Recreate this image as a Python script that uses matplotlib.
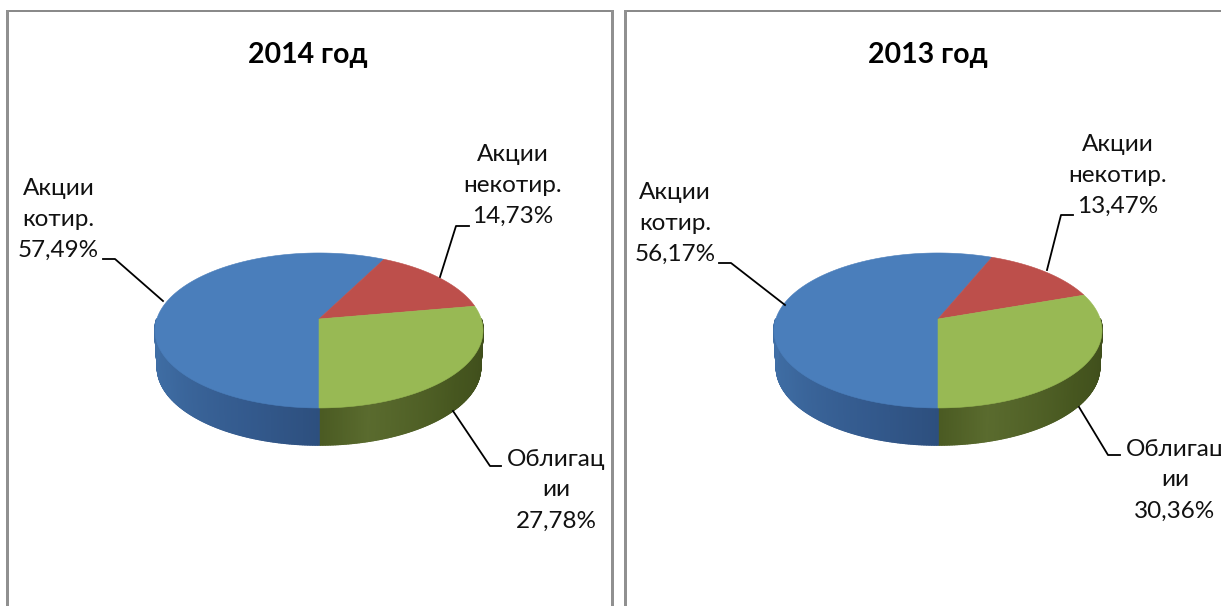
import numpy as np
import matplotlib
matplotlib.use('Agg')
import matplotlib.pyplot as plt
from matplotlib.patches import Polygon, Rectangle
from matplotlib.colors import to_rgb

plt.rcParams['font.family'] = ['Lato', 'Open Sans', 'DejaVu Sans']

# Data
titles = ['2014 год', '2013 год']
names = ['Акции\nкотир.', 'Акции\nнекотир.', 'Облигац\nии']
shares_2014 = [57.49, 14.73, 27.78]
shares_2013 = [56.17, 13.47, 30.36]
top_colors = ['#4a7ebb', '#bd4f4b', '#98b954']

W, H = 1221, 606
K = 0.148       # perspective of the disc
A = 75.8
B = 162.2
DEPTH = 37

side_blue = [(180, '#2d4f7e'), (200, '#33598c'), (240, '#3d6aa0'), (285, '#4272aa')]
side_green = [(90, '#3c4a1a'), (130, '#46561f'), (165, '#5a6b2e'), (180, '#4a5a22')]


def project(theta, cx, cy):
    t = np.radians(theta)
    d = 1 + K*np.cos(t)
    return cx + B*np.sin(t)/d, cy - A*np.cos(t)/d


def side_color(theta, stops):
    xs = [s[0] for s in stops]
    rgb = np.array([to_rgb(s[1]) for s in stops])
    return [np.interp(theta, xs, rgb[:, i]) for i in range(3)]


def draw_pie(ax, shares, cx, cy):
    cuts = 180 + np.cumsum([0] + list(shares))*3.6
    # side wall, near half only
    for a in np.arange(90, 270, 0.5):
        stops = side_green if a < 180 else side_blue
        c = side_color(a, stops)
        x0, y0 = project(a, cx, cy)
        x1, y1 = project(a + 0.5, cx, cy)
        x2, y2 = cx + (x1 - cx)*0.985, y1 + DEPTH
        x3, y3 = cx + (x0 - cx)*0.985, y0 + DEPTH
        ax.add_patch(Polygon([(x0, y0), (x1, y1), (x2, y2), (x3, y3)], fc=c, ec=c, lw=1.2,
                             joinstyle='round', zorder=2))
    # top slices
    for i in range(3):
        th = np.linspace(cuts[i], cuts[i+1], 200)
        xs, ys = project(th, cx, cy)
        pts = [(cx, cy)] + list(zip(xs, ys))
        ax.add_patch(Polygon(pts, fc=top_colors[i], ec=top_colors[i], lw=0.4, zorder=3))


def draw_panel(ax, x0, x1, title, shares, cx, tx, lines, labels):
    # frame of the chart, bottom is cut off by the picture
    ax.add_patch(Rectangle((x0, 10), x1 - x0, 1.5, fc='#8a8a8a', ec='none', zorder=1))
    ax.add_patch(Rectangle((x0 - 1.5, 10), 3, H, fc='#909090', ec='none', zorder=1))
    ax.add_patch(Rectangle((x1 - 1.5, 10), 3, H, fc='#909090', ec='none', zorder=1))
    ax.text(tx, 55, title, ha='center', va='center', fontsize=20.5, fontweight='bold', color='black')
    draw_pie(ax, shares, cx, 319)
    for ln in lines:
        ax.plot([p[0] for p in ln], [p[1] for p in ln], color='black', lw=1.3, zorder=4)
    for i in range(3):
        s = names[i] + '\n' + ('%.2f%%' % shares[i]).replace('.', ',')
        ax.text(labels[i][0], labels[i][1], s, ha='center', va='center', fontsize=17.5,
                linespacing=1.58, color='#111111')


fig = plt.figure(figsize=(W/100, H/100), dpi=100, facecolor='white')
ax = fig.add_axes([0, 0, 1, 1])
ax.set_xlim(0, W)
ax.set_ylim(H, 0)
ax.axis('off')

draw_panel(ax, 7, 612, titles[0], shares_2014, 319, 308,
           [[(163, 301), (115, 259), (103, 259)],
            [(440, 277), (456, 226), (469, 226)],
            [(453, 411), (490, 466), (501, 466)]],
           [(58.5, 219), (513, 185), (556, 490)])
draw_panel(ax, 625, 1240, titles[1], shares_2013, 938, 928,
           [[(785, 305), (731, 263), (719, 263)],
            [(1047, 270), (1061, 215), (1073, 215)],
            [(1079, 407), (1108, 455), (1120, 455)]],
           [(675, 223), (1117.5, 175), (1175, 480)])

fig.savefig('out.png', dpi=100)
